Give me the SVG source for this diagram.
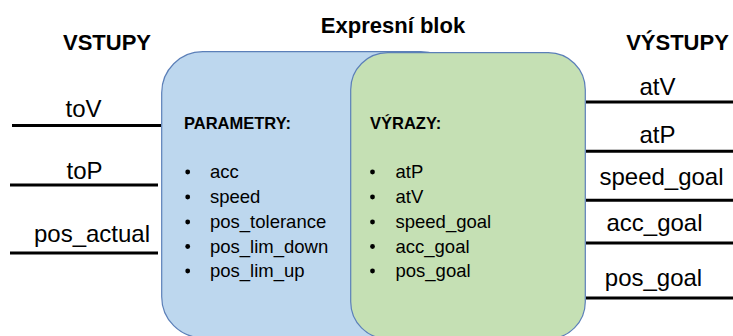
<svg xmlns="http://www.w3.org/2000/svg" width="733" height="336" viewBox="0 0 733 336">
  <style>
    text { font-family: "Liberation Sans", Arial, sans-serif; fill: #000; }
    .hdr { font-size: 22px; font-weight: bold; text-anchor: middle; }
    .io { font-size: 24px; text-anchor: middle; }
    .sub { font-size: 16.5px; font-weight: bold; }
    .item { font-size: 18.5px; }
    .wire { stroke: #000; stroke-width: 3; fill: none; }
    .box { stroke: #5b7fb8; stroke-width: 1.2; }
  </style>

  <!-- headings -->
  <g id="title">
    <text class="hdr" x="393" y="33" font-size="22.5">Expresní blok</text>
  </g>
  <g id="inputs-heading">
    <text class="hdr" x="107" y="50">VSTUPY</text>
  </g>
  <g id="outputs-heading">
    <text class="hdr" x="677.5" y="50" font-size="21.5">VÝSTUPY</text>
  </g>

  <!-- parameter block -->
  <g id="parameters">
    <rect class="box" x="161.7" y="51.7" width="300" height="286" rx="41" ry="41" fill="#BDD7EE"/>
    <text class="sub" x="184" y="128.5">PARAMETRY:</text>
    <g fill="#000">
      <circle cx="187.7" cy="172" r="2.4"/>
      <circle cx="187.7" cy="197" r="2.4"/>
      <circle cx="187.7" cy="222" r="2.4"/>
      <circle cx="187.7" cy="246.5" r="2.4"/>
      <circle cx="187.7" cy="271" r="2.4"/>
    </g>
    <text class="item" x="210" y="178">acc</text>
    <text class="item" x="210" y="203">speed</text>
    <text class="item" x="210" y="228">pos_tolerance</text>
    <text class="item" x="210" y="252.5">pos_lim_down</text>
    <text class="item" x="210" y="277">pos_lim_up</text>
  </g>

  <!-- expression block -->
  <g id="expressions">
    <rect class="box" x="350.7" y="52.7" width="234.6" height="286" rx="37" ry="37" fill="#C5E0B4"/>
    <text class="sub" x="370" y="128.5" font-size="16">VÝRAZY:</text>
    <g fill="#000">
      <circle cx="372.5" cy="172" r="2.4"/>
      <circle cx="372.5" cy="197" r="2.4"/>
      <circle cx="372.5" cy="222" r="2.4"/>
      <circle cx="372.5" cy="246.5" r="2.4"/>
      <circle cx="372.5" cy="271" r="2.4"/>
    </g>
    <text class="item" x="395.5" y="178">atP</text>
    <text class="item" x="395.5" y="203">atV</text>
    <text class="item" x="395.5" y="228">speed_goal</text>
    <text class="item" x="395.5" y="252.5">acc_goal</text>
    <text class="item" x="395.5" y="277">pos_goal</text>
  </g>

  <!-- input signals -->
  <g id="in-toV"><text class="io" x="83.5" y="117">toV</text></g>
  <g id="in-toP"><text class="io" x="84.5" y="178.5">toP</text></g>
  <g id="in-pos_actual"><text class="io" x="92" y="242">pos_actual</text></g>

  <!-- output signals -->
  <g id="out-atV"><text class="io" x="657.5" y="95">atV</text></g>
  <g id="out-atP"><text class="io" x="657.5" y="143">atP</text></g>
  <g id="out-speed_goal"><text class="io" x="661.5" y="185">speed_goal</text></g>
  <g id="out-acc_goal"><text class="io" x="654.5" y="230.5">acc_goal</text></g>
  <g id="out-pos_goal"><text class="io" x="653.5" y="285.5">pos_goal</text></g>

  <!-- signal wires -->
  <g id="connectors">
    <line class="wire" x1="12" y1="125.5" x2="161" y2="125.5"/>
    <line class="wire" x1="10" y1="185" x2="158" y2="185"/>
    <line class="wire" x1="10" y1="253" x2="158" y2="253"/>
    <line class="wire" x1="586" y1="102" x2="733" y2="102"/>
    <line class="wire" x1="586" y1="151.3" x2="733" y2="151.3"/>
    <line class="wire" x1="586" y1="200.3" x2="733" y2="200.3"/>
    <line class="wire" x1="586" y1="243" x2="733" y2="243"/>
    <line class="wire" x1="586" y1="298" x2="733" y2="298"/>
  </g>
</svg>
